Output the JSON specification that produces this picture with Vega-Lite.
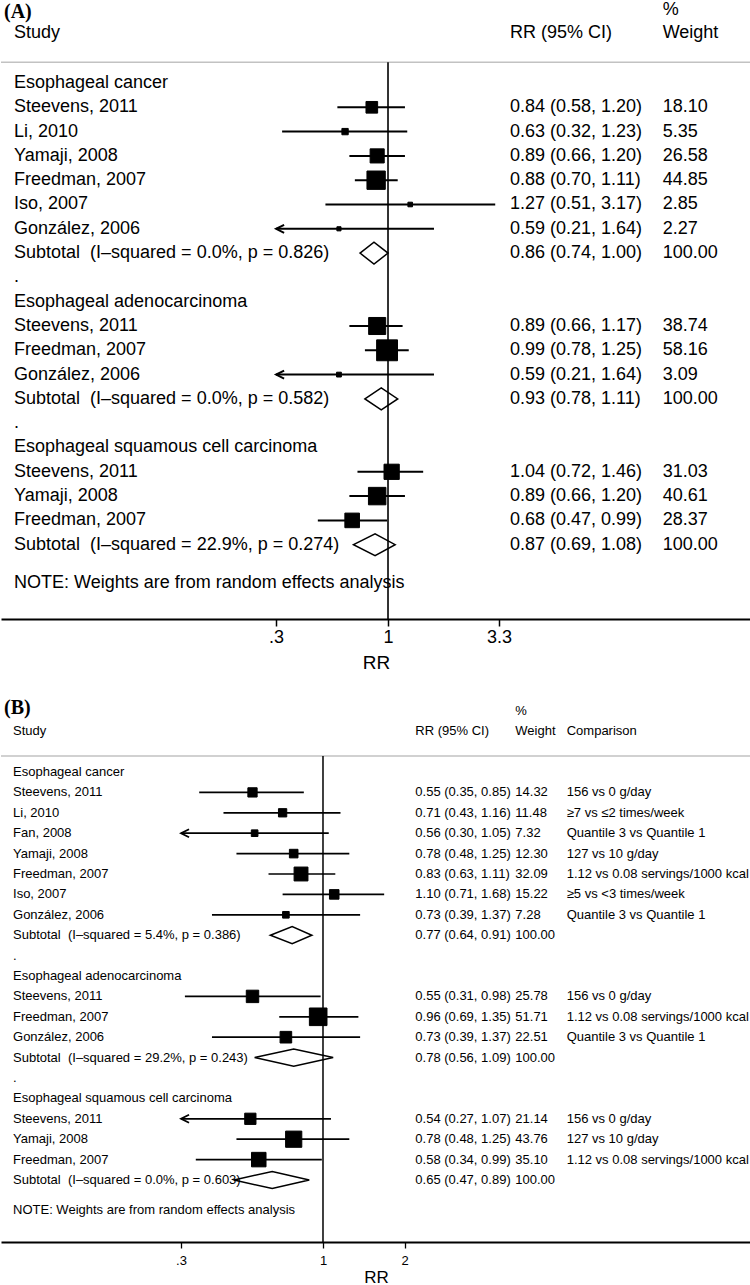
{
  "$schema": "https://vega.github.io/schema/vega-lite/v6.json",
  "padding": 0,
  "spacing": 61,
  "bounds": "flush",
  "config": {"view": {"stroke": null}, "axis": {"grid": false}},
  "resolve": {"scale": {"size": "independent"}},
  "datasets": {
    "A": [
      {"row": -2.922, "tag": "(A)"},
      {"row": -3.004, "wt": "%"},
      {"row": -2.044, "study": "Study", "rrci": "RR (95% CI)", "wt": "Weight"},
      {"row": 0, "study": "Esophageal cancer", "kind": "group"},
      {"row": 1, "study": "Steevens, 2011", "kind": "study", "est": 0.84, "lo": 0.58, "hi": 1.20, "w": 18.10, "rrci": "0.84 (0.58, 1.20)", "wt": "18.10"},
      {"row": 2, "study": "Li, 2010", "kind": "study", "est": 0.63, "lo": 0.32, "hi": 1.23, "w": 5.35, "rrci": "0.63 (0.32, 1.23)", "wt": "5.35"},
      {"row": 3, "study": "Yamaji, 2008", "kind": "study", "est": 0.89, "lo": 0.66, "hi": 1.20, "w": 26.58, "rrci": "0.89 (0.66, 1.20)", "wt": "26.58"},
      {"row": 4, "study": "Freedman, 2007", "kind": "study", "est": 0.88, "lo": 0.70, "hi": 1.11, "w": 44.85, "rrci": "0.88 (0.70, 1.11)", "wt": "44.85"},
      {"row": 5, "study": "Iso, 2007", "kind": "study", "est": 1.27, "lo": 0.51, "hi": 3.17, "w": 2.85, "rrci": "1.27 (0.51, 3.17)", "wt": "2.85"},
      {"row": 6, "study": "González, 2006", "kind": "study", "est": 0.59, "lo": 0.21, "hi": 1.64, "w": 2.27, "rrci": "0.59 (0.21, 1.64)", "wt": "2.27"},
      {"row": 7, "study": "Subtotal \u00a0(I–squared = 0.0%, p = 0.826)", "kind": "subtotal", "est": 0.86, "lo": 0.74, "hi": 1.00, "w": 100, "rrci": "0.86 (0.74, 1.00)", "wt": "100.00"},
      {"row": 8, "study": "."},
      {"row": 9, "study": "Esophageal adenocarcinoma", "kind": "group"},
      {"row": 10, "study": "Steevens, 2011", "kind": "study", "est": 0.89, "lo": 0.66, "hi": 1.17, "w": 38.74, "rrci": "0.89 (0.66, 1.17)", "wt": "38.74"},
      {"row": 11, "study": "Freedman, 2007", "kind": "study", "est": 0.99, "lo": 0.78, "hi": 1.25, "w": 58.16, "rrci": "0.99 (0.78, 1.25)", "wt": "58.16"},
      {"row": 12, "study": "González, 2006", "kind": "study", "est": 0.59, "lo": 0.21, "hi": 1.64, "w": 3.09, "rrci": "0.59 (0.21, 1.64)", "wt": "3.09"},
      {"row": 13, "study": "Subtotal \u00a0(I–squared = 0.0%, p = 0.582)", "kind": "subtotal", "est": 0.93, "lo": 0.78, "hi": 1.11, "w": 100, "rrci": "0.93 (0.78, 1.11)", "wt": "100.00"},
      {"row": 14, "study": "."},
      {"row": 15, "study": "Esophageal squamous cell carcinoma", "kind": "group"},
      {"row": 16, "study": "Steevens, 2011", "kind": "study", "est": 1.04, "lo": 0.72, "hi": 1.46, "w": 31.03, "rrci": "1.04 (0.72, 1.46)", "wt": "31.03"},
      {"row": 17, "study": "Yamaji, 2008", "kind": "study", "est": 0.89, "lo": 0.66, "hi": 1.20, "w": 40.61, "rrci": "0.89 (0.66, 1.20)", "wt": "40.61"},
      {"row": 18, "study": "Freedman, 2007", "kind": "study", "est": 0.68, "lo": 0.47, "hi": 0.99, "w": 28.37, "rrci": "0.68 (0.47, 0.99)", "wt": "28.37"},
      {"row": 19, "study": "Subtotal \u00a0(I–squared = 22.9%, p = 0.274)", "kind": "subtotal", "est": 0.87, "lo": 0.69, "hi": 1.08, "w": 100, "rrci": "0.87 (0.69, 1.08)", "wt": "100.00"},
      {"row": 20.58, "study": "NOTE: Weights are from random effects analysis", "kind": "note"}
    ],
    "dA": [
      {"grp": "A1", "rr": 0.74, "top": 7, "bottom": 7},
      {"grp": "A1", "rr": 0.86, "top": 6.55, "bottom": 7.45},
      {"grp": "A1", "rr": 1.00, "top": 7, "bottom": 7},
      {"grp": "A2", "rr": 0.78, "top": 13, "bottom": 13},
      {"grp": "A2", "rr": 0.93, "top": 12.55, "bottom": 13.45},
      {"grp": "A2", "rr": 1.11, "top": 13, "bottom": 13},
      {"grp": "A3", "rr": 0.69, "top": 19, "bottom": 19},
      {"grp": "A3", "rr": 0.87, "top": 18.55, "bottom": 19.45},
      {"grp": "A3", "rr": 1.08, "top": 19, "bottom": 19}
    ],
    "B": [
      {"row": -3.137, "tag": "(B)"},
      {"row": -2.99, "wt": "%"},
      {"row": -2.01, "study": "Study", "rrci": "RR (95% CI)", "wt": "Weight", "comp": "Comparison"},
      {"row": 0, "study": "Esophageal cancer", "kind": "group"},
      {"row": 1, "study": "Steevens, 2011", "kind": "study", "est": 0.55, "lo": 0.35, "hi": 0.85, "w": 14.32, "rrci": "0.55 (0.35, 0.85)", "wt": "14.32", "comp": "156 vs 0 g/day"},
      {"row": 2, "study": "Li, 2010", "kind": "study", "est": 0.71, "lo": 0.43, "hi": 1.16, "w": 11.48, "rrci": "0.71 (0.43, 1.16)", "wt": "11.48", "comp": "≥7 vs ≤2 times/week"},
      {"row": 3, "study": "Fan, 2008", "kind": "study", "est": 0.56, "lo": 0.30, "hi": 1.05, "w": 7.32, "rrci": "0.56 (0.30, 1.05)", "wt": "7.32", "comp": "Quantile 3 vs Quantile 1"},
      {"row": 4, "study": "Yamaji, 2008", "kind": "study", "est": 0.78, "lo": 0.48, "hi": 1.25, "w": 12.30, "rrci": "0.78 (0.48, 1.25)", "wt": "12.30", "comp": "127 vs 10 g/day"},
      {"row": 5, "study": "Freedman, 2007", "kind": "study", "est": 0.83, "lo": 0.63, "hi": 1.11, "w": 32.09, "rrci": "0.83 (0.63, 1.11)", "wt": "32.09", "comp": "1.12 vs 0.08 servings/1000 kcal"},
      {"row": 6, "study": "Iso, 2007", "kind": "study", "est": 1.10, "lo": 0.71, "hi": 1.68, "w": 15.22, "rrci": "1.10 (0.71, 1.68)", "wt": "15.22", "comp": "≥5 vs <3 times/week"},
      {"row": 7, "study": "González, 2006", "kind": "study", "est": 0.73, "lo": 0.39, "hi": 1.37, "w": 7.28, "rrci": "0.73 (0.39, 1.37)", "wt": "7.28", "comp": "Quantile 3 vs Quantile 1"},
      {"row": 8, "study": "Subtotal \u00a0(I–squared = 5.4%, p = 0.386)", "kind": "subtotal", "est": 0.77, "lo": 0.64, "hi": 0.91, "w": 100, "rrci": "0.77 (0.64, 0.91)", "wt": "100.00"},
      {"row": 9, "study": "."},
      {"row": 10, "study": "Esophageal adenocarcinoma", "kind": "group"},
      {"row": 11, "study": "Steevens, 2011", "kind": "study", "est": 0.55, "lo": 0.31, "hi": 0.98, "w": 25.78, "rrci": "0.55 (0.31, 0.98)", "wt": "25.78", "comp": "156 vs 0 g/day"},
      {"row": 12, "study": "Freedman, 2007", "kind": "study", "est": 0.96, "lo": 0.69, "hi": 1.35, "w": 51.71, "rrci": "0.96 (0.69, 1.35)", "wt": "51.71", "comp": "1.12 vs 0.08 servings/1000 kcal"},
      {"row": 13, "study": "González, 2006", "kind": "study", "est": 0.73, "lo": 0.39, "hi": 1.37, "w": 22.51, "rrci": "0.73 (0.39, 1.37)", "wt": "22.51", "comp": "Quantile 3 vs Quantile 1"},
      {"row": 14, "study": "Subtotal \u00a0(I–squared = 29.2%, p = 0.243)", "kind": "subtotal", "est": 0.78, "lo": 0.56, "hi": 1.09, "w": 100, "rrci": "0.78 (0.56, 1.09)", "wt": "100.00"},
      {"row": 15, "study": "."},
      {"row": 16, "study": "Esophageal squamous cell carcinoma", "kind": "group"},
      {"row": 17, "study": "Steevens, 2011", "kind": "study", "est": 0.54, "lo": 0.27, "hi": 1.07, "w": 21.14, "rrci": "0.54 (0.27, 1.07)", "wt": "21.14", "comp": "156 vs 0 g/day"},
      {"row": 18, "study": "Yamaji, 2008", "kind": "study", "est": 0.78, "lo": 0.48, "hi": 1.25, "w": 43.76, "rrci": "0.78 (0.48, 1.25)", "wt": "43.76", "comp": "127 vs 10 g/day"},
      {"row": 19, "study": "Freedman, 2007", "kind": "study", "est": 0.58, "lo": 0.34, "hi": 0.99, "w": 35.10, "rrci": "0.58 (0.34, 0.99)", "wt": "35.10", "comp": "1.12 vs 0.08 servings/1000 kcal"},
      {"row": 20, "study": "Subtotal \u00a0(I–squared = 0.0%, p = 0.603)", "kind": "subtotal", "est": 0.65, "lo": 0.47, "hi": 0.89, "w": 100, "rrci": "0.65 (0.47, 0.89)", "wt": "100.00"},
      {"row": 21.47, "study": "NOTE: Weights are from random effects analysis", "kind": "note"}
    ],
    "dB": [
      {"grp": "B1", "rr": 0.64, "top": 8, "bottom": 8},
      {"grp": "B1", "rr": 0.77, "top": 7.58, "bottom": 8.42},
      {"grp": "B1", "rr": 0.91, "top": 8, "bottom": 8},
      {"grp": "B2", "rr": 0.56, "top": 14, "bottom": 14},
      {"grp": "B2", "rr": 0.78, "top": 13.58, "bottom": 14.42},
      {"grp": "B2", "rr": 1.09, "top": 14, "bottom": 14},
      {"grp": "B3", "rr": 0.47, "top": 20, "bottom": 20},
      {"grp": "B3", "rr": 0.65, "top": 19.58, "bottom": 20.42},
      {"grp": "B3", "rr": 0.89, "top": 20, "bottom": 20}
    ]
  },
  "vconcat": [
    {
      "width": 750,
      "height": 619,
      "encoding": {
        "y": {"field": "row", "type": "quantitative", "scale": {"domain": [-3.4156, 22.0576], "reverse": true, "nice": false, "zero": false}, "axis": null}
      },
      "layer": [
        {
          "data": {"name": "A"},
          "transform": [{"filter": "datum.kind == 'group' && datum.row == 0"}],
          "mark": {"type": "rule", "color": "#c2c2c2", "strokeWidth": 1.4},
          "encoding": {"y": {"datum": -0.852, "type": "quantitative", "scale": {"domain": [-3.4156, 22.0576], "reverse": true, "nice": false, "zero": false}, "axis": null}}
        },
        {
          "data": {"name": "A"},
          "transform": [{"filter": "datum.kind == 'group' && datum.row == 0"}],
          "mark": {"type": "rule", "color": "black", "strokeWidth": 1.6},
          "encoding": {
            "x": {"datum": 1, "type": "quantitative", "scale": {"type": "log", "domain": [0.015543, 49.69], "nice": false}},
            "y": {"datum": -0.852, "type": "quantitative", "scale": {"domain": [-3.4156, 22.0576], "reverse": true, "nice": false, "zero": false}, "axis": null},
            "y2": {"datum": 22.0576}
          }
        },
        {
          "data": {"name": "A"},
          "transform": [{"filter": "datum.kind == 'study' && datum.lo >= 0.3"}],
          "mark": {"type": "rule", "color": "black", "strokeWidth": 2},
          "encoding": {
            "x": {"field": "lo", "type": "quantitative", "scale": {"type": "log", "domain": [0.015543, 49.69], "nice": false},
              "axis": {"title": "RR", "values": [0.3, 1, 3.3], "format": "~g", "labelExpr": "datum.value == 0.3 ? '.3' : datum.label", "labelFontSize": 18, "titleFontSize": 19, "titleFontWeight": "normal", "labelFont": "Liberation Sans", "titleFont": "Liberation Sans", "labelColor": "black", "titleColor": "black", "domainColor": "black", "domainWidth": 2, "tickColor": "black", "tickWidth": 1.5, "tickSize": 7, "labelPadding": 2, "titlePadding": 7, "labelFlush": false, "labelOverlap": false}},
            "x2": {"field": "hi"}
          }
        },
        {
          "data": {"name": "A"},
          "transform": [{"filter": "datum.kind == 'study' && datum.lo < 0.3"}],
          "mark": {"type": "rule", "color": "black", "strokeWidth": 2},
          "encoding": {
            "x": {"field": "hi", "type": "quantitative", "scale": {"type": "log", "domain": [0.015543, 49.69], "nice": false}},
            "x2": {"datum": 0.3}
          }
        },
        {
          "data": {"name": "A"},
          "transform": [{"filter": "datum.kind == 'study' && datum.lo < 0.3"}],
          "mark": {"type": "point", "shape": "M 2 -1 L 0 0 L 2 1", "filled": false, "stroke": "black", "strokeWidth": 2, "size": 64, "opacity": 1},
          "encoding": {
            "x": {"datum": 0.3, "type": "quantitative", "scale": {"type": "log", "domain": [0.015543, 49.69], "nice": false}}
          }
        },
        {
          "data": {"name": "A"},
          "transform": [{"filter": "datum.kind == 'study'"}],
          "mark": {"type": "square", "filled": true, "color": "black", "stroke": "black", "strokeWidth": 1, "opacity": 1},
          "encoding": {
            "x": {"field": "est", "type": "quantitative", "scale": {"type": "log", "domain": [0.015543, 49.69], "nice": false}},
            "size": {"field": "w", "type": "quantitative", "scale": {"domain": [0, 100], "range": [0, 750]}, "legend": null}
          }
        },
        {
          "data": {"name": "dA"},
          "mark": {"type": "area", "filled": false, "stroke": "black", "strokeWidth": 1.5, "opacity": 1},
          "encoding": {
            "x": {"field": "rr", "type": "quantitative", "scale": {"type": "log", "domain": [0.015543, 49.69], "nice": false}},
            "y": {"field": "top", "type": "quantitative", "stack": null, "scale": {"domain": [-3.4156, 22.0576], "reverse": true, "nice": false, "zero": false}, "axis": null},
            "y2": {"field": "bottom"},
            "detail": {"field": "grp", "type": "nominal"}
          }
        },
        {
          "data": {"name": "A"},
          "transform": [{"filter": "isValid(datum.tag)"}],
          "mark": {"type": "text", "align": "left", "baseline": "middle", "fontSize": 20, "font": "Liberation Serif", "fontWeight": "bold", "color": "black"},
          "encoding": {
            "x": {"datum": 0.016053, "type": "quantitative", "scale": {"type": "log", "domain": [0.015543, 49.69], "nice": false}},
            "text": {"field": "tag", "type": "nominal"}
          }
        },
        {
          "data": {"name": "A"},
          "transform": [{"filter": "isValid(datum.study)"}],
          "mark": {"type": "text", "align": "left", "baseline": "middle", "fontSize": 18, "font": "Liberation Sans", "color": "black"},
          "encoding": {
            "x": {"datum": 0.017878, "type": "quantitative", "scale": {"type": "log", "domain": [0.015543, 49.69], "nice": false}},
            "text": {"field": "study", "type": "nominal"}
          }
        },
        {
          "data": {"name": "A"},
          "transform": [{"filter": "isValid(datum.rrci)"}],
          "mark": {"type": "text", "align": "left", "baseline": "middle", "fontSize": 18, "font": "Liberation Sans", "color": "black"},
          "encoding": {
            "x": {"datum": 3.7163, "type": "quantitative", "scale": {"type": "log", "domain": [0.015543, 49.69], "nice": false}},
            "text": {"field": "rrci", "type": "nominal"}
          }
        },
        {
          "data": {"name": "A"},
          "transform": [{"filter": "isValid(datum.wt)"}],
          "mark": {"type": "text", "align": "left", "baseline": "middle", "fontSize": 18, "font": "Liberation Sans", "color": "black"},
          "encoding": {
            "x": {"datum": 19.21, "type": "quantitative", "scale": {"type": "log", "domain": [0.015543, 49.69], "nice": false}},
            "text": {"field": "wt", "type": "nominal"}
          }
        }
      ]
    },
    {
      "width": 750,
      "height": 562,
      "encoding": {
        "y": {"field": "row", "type": "quantitative", "scale": {"domain": [-4.5098, 23.0392], "reverse": true, "nice": false, "zero": false}, "axis": null}
      },
      "layer": [
        {
          "data": {"name": "B"},
          "transform": [{"filter": "datum.kind == 'group' && datum.row == 0"}],
          "mark": {"type": "rule", "color": "#c2c2c2", "strokeWidth": 1.3},
          "encoding": {"y": {"datum": -0.784, "type": "quantitative", "scale": {"domain": [-4.5098, 23.0392], "reverse": true, "nice": false, "zero": false}, "axis": null}}
        },
        {
          "data": {"name": "B"},
          "transform": [{"filter": "datum.kind == 'group' && datum.row == 0"}],
          "mark": {"type": "rule", "color": "black", "strokeWidth": 1.5},
          "encoding": {
            "x": {"datum": 1, "type": "quantitative", "scale": {"type": "log", "domain": [0.065163, 37.71], "nice": false}},
            "y": {"datum": -0.784, "type": "quantitative", "scale": {"domain": [-4.5098, 23.0392], "reverse": true, "nice": false, "zero": false}, "axis": null},
            "y2": {"datum": 23.0392}
          }
        },
        {
          "data": {"name": "B"},
          "transform": [{"filter": "datum.kind == 'study' && datum.lo > 0.3"}],
          "mark": {"type": "rule", "color": "black", "strokeWidth": 1.7},
          "encoding": {
            "x": {"field": "lo", "type": "quantitative", "scale": {"type": "log", "domain": [0.065163, 37.71], "nice": false},
              "axis": {"title": "RR", "values": [0.3, 1, 2], "format": "~g", "labelExpr": "datum.value == 0.3 ? '.3' : datum.label", "labelFontSize": 13, "titleFontSize": 17, "titleFontWeight": "normal", "labelFont": "Liberation Sans", "titleFont": "Liberation Sans", "labelColor": "black", "titleColor": "black", "domainColor": "black", "domainWidth": 1.8, "tickColor": "black", "tickWidth": 1.3, "tickSize": 6, "labelPadding": 6, "titlePadding": 2, "labelFlush": false, "labelOverlap": false}},
            "x2": {"field": "hi"}
          }
        },
        {
          "data": {"name": "B"},
          "transform": [{"filter": "datum.kind == 'study' && datum.lo <= 0.3"}],
          "mark": {"type": "rule", "color": "black", "strokeWidth": 1.7},
          "encoding": {
            "x": {"field": "hi", "type": "quantitative", "scale": {"type": "log", "domain": [0.065163, 37.71], "nice": false}},
            "x2": {"datum": 0.3}
          }
        },
        {
          "data": {"name": "B"},
          "transform": [{"filter": "datum.kind == 'study' && datum.lo <= 0.3"}],
          "mark": {"type": "point", "shape": "M 2 -1 L 0 0 L 2 1", "filled": false, "stroke": "black", "strokeWidth": 1.8, "size": 64, "opacity": 1},
          "encoding": {
            "x": {"datum": 0.3, "type": "quantitative", "scale": {"type": "log", "domain": [0.065163, 37.71], "nice": false}}
          }
        },
        {
          "data": {"name": "B"},
          "transform": [{"filter": "datum.kind == 'study'"}],
          "mark": {"type": "square", "filled": true, "color": "black", "stroke": "black", "strokeWidth": 1, "opacity": 1},
          "encoding": {
            "x": {"field": "est", "type": "quantitative", "scale": {"type": "log", "domain": [0.065163, 37.71], "nice": false}},
            "size": {"field": "w", "type": "quantitative", "scale": {"domain": [0, 100], "range": [0, 600]}, "legend": null}
          }
        },
        {
          "data": {"name": "dB"},
          "mark": {"type": "area", "filled": false, "stroke": "black", "strokeWidth": 1.5, "opacity": 1},
          "encoding": {
            "x": {"field": "rr", "type": "quantitative", "scale": {"type": "log", "domain": [0.065163, 37.71], "nice": false}},
            "y": {"field": "top", "type": "quantitative", "stack": null, "scale": {"domain": [-4.5098, 23.0392], "reverse": true, "nice": false, "zero": false}, "axis": null},
            "y2": {"field": "bottom"},
            "detail": {"field": "grp", "type": "nominal"}
          }
        },
        {
          "data": {"name": "B"},
          "transform": [{"filter": "isValid(datum.tag)"}],
          "mark": {"type": "text", "align": "left", "baseline": "middle", "fontSize": 20, "font": "Liberation Serif", "fontWeight": "bold", "color": "black"},
          "encoding": {
            "x": {"datum": 0.06684, "type": "quantitative", "scale": {"type": "log", "domain": [0.065163, 37.71], "nice": false}},
            "text": {"field": "tag", "type": "nominal"}
          }
        },
        {
          "data": {"name": "B"},
          "transform": [{"filter": "isValid(datum.study)"}],
          "mark": {"type": "text", "align": "left", "baseline": "middle", "fontSize": 13, "font": "Liberation Sans", "color": "black"},
          "encoding": {
            "x": {"datum": 0.07216, "type": "quantitative", "scale": {"type": "log", "domain": [0.065163, 37.71], "nice": false}},
            "text": {"field": "study", "type": "nominal"}
          }
        },
        {
          "data": {"name": "B"},
          "transform": [{"filter": "isValid(datum.rrci)"}],
          "mark": {"type": "text", "align": "left", "baseline": "middle", "fontSize": 13, "font": "Liberation Sans", "color": "black"},
          "encoding": {
            "x": {"datum": 2.1878, "type": "quantitative", "scale": {"type": "log", "domain": [0.065163, 37.71], "nice": false}},
            "text": {"field": "rrci", "type": "nominal"}
          }
        },
        {
          "data": {"name": "B"},
          "transform": [{"filter": "isValid(datum.wt)"}],
          "mark": {"type": "text", "align": "left", "baseline": "middle", "fontSize": 13, "font": "Liberation Sans", "color": "black"},
          "encoding": {
            "x": {"datum": 5.109, "type": "quantitative", "scale": {"type": "log", "domain": [0.065163, 37.71], "nice": false}},
            "text": {"field": "wt", "type": "nominal"}
          }
        },
        {
          "data": {"name": "B"},
          "transform": [{"filter": "isValid(datum.comp)"}],
          "mark": {"type": "text", "align": "left", "baseline": "middle", "fontSize": 13, "font": "Liberation Sans", "color": "black"},
          "encoding": {
            "x": {"datum": 7.9, "type": "quantitative", "scale": {"type": "log", "domain": [0.065163, 37.71], "nice": false}},
            "text": {"field": "comp", "type": "nominal"}
          }
        }
      ]
    }
  ]
}
